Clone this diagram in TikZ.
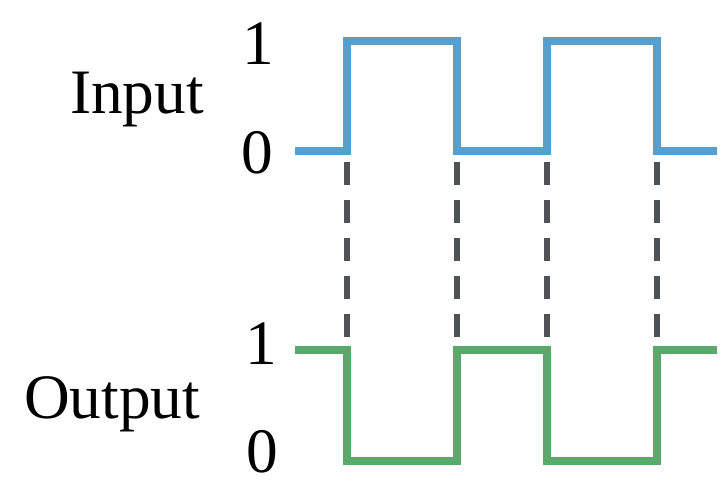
\documentclass[tikz,border=0pt]{standalone}
\usepackage{fontspec}
\setmainfont{Liberation Serif}
\usepackage{tikz}
\usepackage{xcolor}
\usetikzlibrary{arrows.meta}
\definecolor{inblue}{RGB}{86,160,208}
\definecolor{outgreen}{RGB}{90,168,106}
\definecolor{guide}{RGB}{80,82,86}

\begin{document}
\begin{tikzpicture}[x=0.01cm,y=-0.01cm,
  lbl/.style={font=\fontsize{18}{21}\selectfont,inner sep=0pt},
  wave/.style={line width=2pt,line join=miter},
  guideline/.style={guide,line width=1.5pt,dash pattern=on 6.5pt off 4.3pt}]
\useasboundingbox(0,0)rectangle(723,493);
% labels
\node[lbl,anchor=base](inlbl)at(137,113){Input};
\node[lbl,anchor=base](outlbl)at(112,418){Output};
\node[lbl](inone)at(258,44){1};
\node[lbl](inzero)at(257,153){0};
\node[lbl](outone)at(261,344){1};
\node[lbl](outzero)at(262,452){0};
% edges
\foreach \e/\x in {a/347,b/457,c/547,d/657}{
  \coordinate(in\e)at(\x,162);
  \coordinate(out\e)at(\x,342);
}
% input wave
\draw[wave,inblue](295,151)--(347,151)--(347,41)--(457,41)--(457,151)
  --(547,151)--(547,41)--(657,41)--(657,151)--(717,151);
% output wave
\draw[wave,outgreen](295,350)--(347,350)--(347,461)--(457,461)--(457,350)
  --(547,350)--(547,461)--(657,461)--(657,350)--(717,350);
% dashed guides
\foreach \e in {a,b,c,d}
  \draw[guideline](in\e)--(out\e);
\end{tikzpicture}
\end{document}
